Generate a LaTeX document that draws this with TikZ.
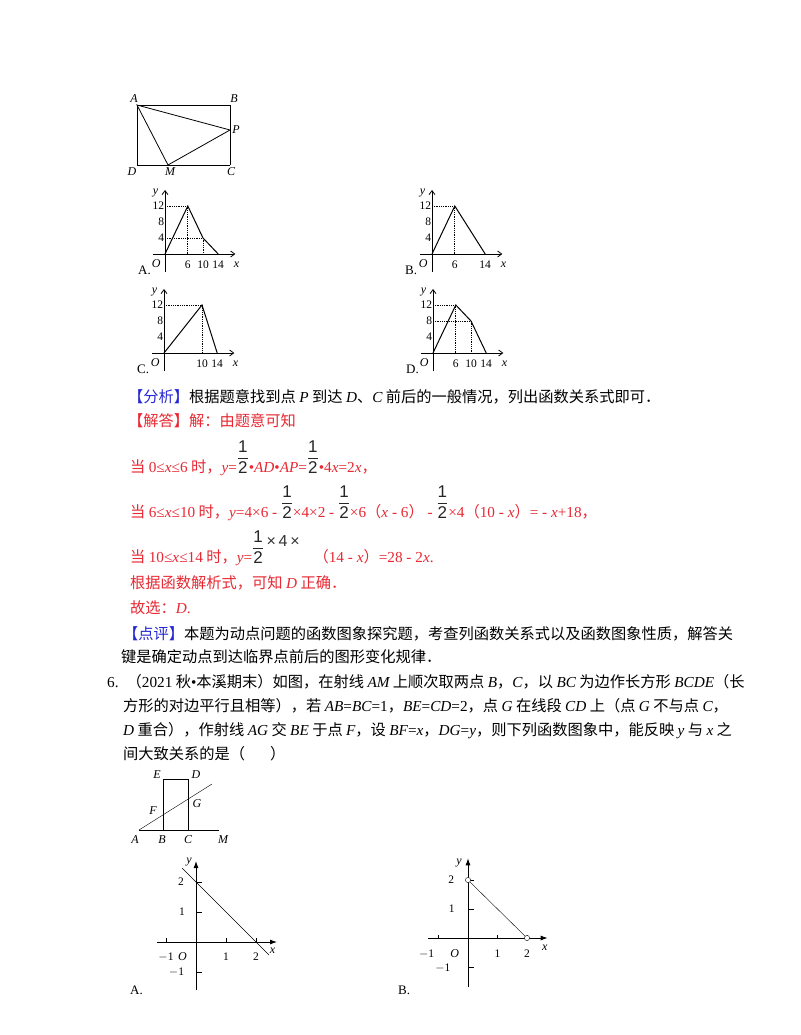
\documentclass[tikz,border=0pt]{standalone}
\usepackage{amsmath}
\usepackage{fontspec}
\setmainfont{Noto Sans CJK SC}
\newfontfamily\tm{Liberation Serif}
\newfontfamily\sansf{Liberation Sans}
\usetikzlibrary{arrows.meta}
\definecolor{rd}{RGB}{232,40,50}
\definecolor{bl}{RGB}{40,40,210}
\newcommand\R[1]{{\tm #1}}
\newcommand\I[1]{{\tm\itshape #1}}
\newsavebox\fb
\newcommand\hf{\sbox\fb{\color{black!85}$\genfrac{}{}{0.7pt}{0}{\hbox{\sansf\fontsize{17}{17}\selectfont 1}}{\hbox{\sansf\fontsize{17}{17}\selectfont 2}}$}\raisebox{\dimexpr\dp\fb-1pt}{\usebox\fb}}
\tikzset{
  txt/.style={anchor=base west,inner sep=0pt,font=\fontsize{15.25}{18}\selectfont},
  lb/.style={inner sep=0pt,font=\tm\itshape\fontsize{12}{12}\selectfont},
  nb/.style={inner sep=0pt,font=\tm\fontsize{11.5}{12}\selectfont},
  ax/.style={thick,-{Straight Barb[length=4pt,width=6pt]}},
  dt/.style={densely dotted,thick},
  gl/.style={line width=1pt},
  ax2/.style={line width=0.9pt,-{Latex[length=7pt,width=5pt]}},
}
\begin{document}
\begin{tikzpicture}[x=1pt,y=-1pt]
\useasboundingbox[fill=white] (0,0) rectangle (800,1035);
% top figure
\coordinate (A) at (137,105); \coordinate (B) at (230,105);
\coordinate (C) at (230,165); \coordinate (D) at (137,165);
\coordinate (P) at (230,130); \coordinate (M) at (168,165);
\draw[thick] (A)--(B); \draw (A)--(D)--(C); \draw[thick] (B)--(C);
\draw[thick] (A)--(P)--(M)--cycle;
\node[lb] at (134,99) {A}; \node[lb] at (234,99) {B}; \node[lb] at (236,130) {P};
\node[lb] at (132,172) {D}; \node[lb] at (170,172) {M}; \node[lb] at (231,172) {C};
% small graphs
\newcommand\gr[5]{%
\begin{scope}[shift={(#1pt,-#2pt)},x=3.8pt,y=4pt]
\draw[ax] (-3.2,0)--(18.5,0); \draw[ax] (0,-4.5)--(0,16);
\node[lb] at (-2.5,15.3) {y};
\node[lb] at (-2.3,-2.4) {O};
\node[lb] at (18.8,-2.6) {x};
\foreach \t in {12,8,4}{\node[nb,anchor=east] at (-0.2,\t) {\t};}
#3
\draw[gl] #4;
\end{scope}
\node[inner sep=0pt,font=\tm\fontsize{13}{13}\selectfont,anchor=west] at (#1pt-27pt,-#2pt-16pt) {#5};}
\gr{165}{254}{\draw[dt] (0,12)--(6,12)--(6,0); \draw[dt] (0,4)--(10,4)--(10,0);
 \node[nb] at (6,-2.6) {6}; \node[nb] at (10,-2.6) {10}; \node[nb] at (14,-2.6) {14};}{(0,0)--(6,12)--(10,4)--(14,0)}{A.}
\gr{432}{254}{\draw[dt] (0,12)--(6,12)--(6,0);
 \node[nb] at (6,-2.6) {6}; \node[nb] at (14,-2.6) {14};}{(0,0)--(6,12)--(14,0)}{B.}
\gr{164}{353}{\draw[dt] (0,12)--(10,12)--(10,0);
 \node[nb] at (10,-2.6) {10}; \node[nb] at (14,-2.6) {14};}{(0,0)--(10,12)--(14,0)}{C.}
\gr{433}{353}{\draw[dt] (0,12)--(6,12)--(6,0); \draw[dt] (0,8)--(10,8)--(10,0);
 \node[nb] at (6,-2.6) {6}; \node[nb] at (10,-2.6) {10}; \node[nb] at (14,-2.6) {14};}{(0,0)--(6,12)--(10,8)--(14,0)}{D.}
% text
\node[txt] (t1) at (128,402) {\textcolor{bl}{【分析】}根据题意找到点 \I{P} 到达 \I{D}、\I{C} 前后的一般情况，列出函数关系式即可．};
\node[txt,text=rd] (t2) at (128,426) {【解答】解：由题意可知};
\node[txt,text=rd] (t3) at (130,472) {当 \R{0}\R{≤}\I{x}\R{≤}\R{6} 时，\I{y}\R{=}\hf\R{•}\I{AD}\R{•}\I{AP}\R{=}\hf\R{•4}\I{x}\R{=2}\I{x}，};
\node[txt,text=rd] (t4) at (130,517) {当 \R{6≤}\I{x}\R{≤10} 时，\I{y}\R{=4×6 - }\hf\R{×4×2 - }\hf\R{×6}（\I{x}\R{ - 6}）\R{ - }\hf\R{×4}（\R{10 - }\I{x}）\R{= - }\I{x}\R{+18}，};
\node[txt,text=rd] (t5) at (130,562) {当 \R{10≤}\I{x}\R{≤14} 时，\I{y}\R{=}\hf\raisebox{16pt}{\textcolor{black!80}{\sansf\fontsize{16}{16}\selectfont\,×\,4\,×}}\hspace{14pt}（\R{14 - }\I{x}）\R{=28 - 2}\I{x}\R{.}};
\node[txt,text=rd] (t6) at (130,588) {根据函数解析式，可知 \I{D} 正确．};
\node[txt,text=rd] (t7) at (130,613) {故选：\I{D}\R{.}};
\node[txt] (t8) at (123,639) {\textcolor{bl}{【点评】}本题为动点问题的函数图象探究题，考查列函数关系式以及函数图象性质，解答关};
\node[txt] (t9) at (121,662) {键是确定动点到达临界点前后的图形变化规律．};
\node[txt] (t10) at (107,687) {\R{6.}\hspace{8pt}（\R{2021} 秋\R{•}本溪期末）如图，在射线 \I{AM} 上顺次取两点 \I{B}，\I{C}，以 \I{BC} 为边作长方形 \I{BCDE}（长};
\node[txt] (t11) at (123,711) {方形的对边平行且相等），若 \I{AB}\R{=}\I{BC}\R{=1}，\I{BE}\R{=}\I{CD}\R{=2}，点 \I{G} 在线段 \I{CD} 上（点 \I{G} 不与点 \I{C}，};
\node[txt] (t12) at (123,735) {\I{D} 重合），作射线 \I{AG} 交 \I{BE} 于点 \I{F}，设 \I{BF}\R{=}\I{x}，\I{DG}\R{=}\I{y}，则下列函数图象中，能反映 \I{y} 与 \I{x} 之};
\node[txt] (t13) at (123,759) {间大致关系的是（\hspace{25pt}）};
% bottom figure
\coordinate (a) at (139,830); \coordinate (b) at (163,830); \coordinate (c) at (188,830);
\coordinate (m) at (219,830); \coordinate (e) at (163,779); \coordinate (d) at (188,779);
\coordinate (r) at (212,784);
\draw (a)--(m); \draw (b)--(e)--(d)--(c); \draw (a)--(r);
\node[lb] at (157,775) {E}; \node[lb] at (196,775) {D}; \node[lb] at (153,811) {F};
\node[lb] at (197,804) {G}; \node[lb] at (135,840) {A}; \node[lb] at (162,840) {B};
\node[lb] at (188,840) {C}; \node[lb] at (223,840) {M};
% bottom graph A
\begin{scope}[shift={(196pt,-942pt)},x=30pt,y=30pt]
\draw[ax2] (-1.3,0)--(2.7,0); \draw[ax2] (0,-1.6)--(0,2.7);
\foreach \t in {-1,1,2}{\draw (\t,0)--(\t,0.12); \draw (0,\t)--(0.2,\t);}
\draw (-0.47,2.47)--(2.43,-0.43);
\node[lb] at (-0.23,2.65) {y}; \node[nb] at (-0.5,2) {2}; \node[nb] at (-0.47,1) {1};
\node[nb] at (-1.0,-0.5) {$-$1}; \node[lb] at (-0.45,-0.5) {O}; \node[nb] at (1,-0.5) {1};
\node[nb] at (2,-0.5) {2}; \node[lb] at (2.55,-0.3) {x}; \node[nb] at (-0.65,-1) {$-$1};
\end{scope}
\node[inner sep=0pt,font=\tm\fontsize{13}{13}\selectfont,anchor=west] at (130,990) {A.};
% bottom graph B
\begin{scope}[shift={(468pt,-938pt)},x=29.5pt,y=29pt]
\draw[ax2] (-1.35,0)--(2.7,0); \draw[ax2] (0,-1.7)--(0,2.75);
\foreach \t in {-1,1,2}{\draw (\t,0)--(\t,0.12); \draw (0,\t)--(0.2,\t);}
\draw (0,2)--(2,0);
\draw[fill=white] (0,2) circle (2.6pt); \draw[fill=white] (2,0) circle (2.6pt);
\node[lb] at (-0.3,2.6) {y}; \node[nb] at (-0.57,2) {2}; \node[nb] at (-0.55,1) {1};
\node[nb] at (-1.4,-0.55) {$-$1}; \node[lb] at (-0.45,-0.55) {O}; \node[nb] at (1,-0.55) {1};
\node[nb] at (2,-0.55) {2}; \node[lb] at (2.6,-0.35) {x}; \node[nb] at (-0.85,-1.03) {$-$1};
\end{scope}
\node[inner sep=0pt,font=\tm\fontsize{13}{13}\selectfont,anchor=west] at (398,990) {B.};
\end{tikzpicture}
\end{document}
